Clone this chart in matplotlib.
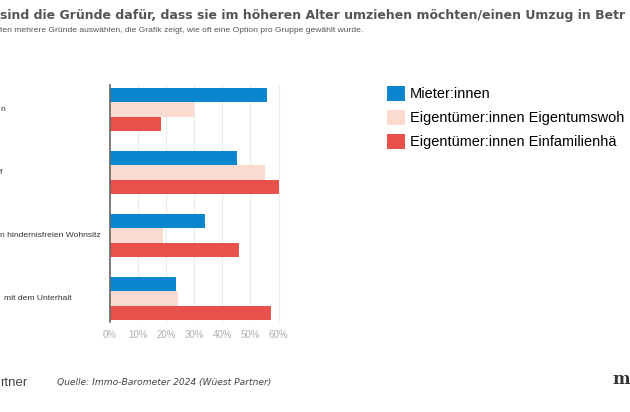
import matplotlib
matplotlib.use("Agg")
import matplotlib.pyplot as plt
import matplotlib.transforms as mtransforms
import numpy as np

# values in percent
categories = ["n", "f", "n hindernisfreien Wohnsitz", "mit dem Unterhalt"]
label_x_px = [0, 0, 0, 4]
mieter = [55.7, 45.2, 33.8, 23.5]
eigentumswohnung = [30.0, 55.0, 18.7, 24.2]
einfamilienhaus = [18.2, 60.1, 46.0, 57.4]
# legend labels as far as they show before the right edge
series_names = ["Mieter:innen",
                "Eigentümer:innen Eigentumswoh",
                "Eigentümer:innen Einfamilienhä"]
colors = ["#0a86cf", "#fbdbd0", "#e8504b"]
ticks = [0, 10, 20, 30, 40, 50, 60]

W, H = 630, 412
fig = plt.figure(figsize=(W / 100, H / 100), dpi=100)
fig.patch.set_facecolor("white")
SANS = ["Liberation Sans", "DejaVu Sans"]


def fx(px):
    return px / W


def fy(py):
    return 1 - py / H


def fit_width(txt, target_px):
    # shrink/grow a text so that it spans target_px
    for _ in range(3):
        r = fig.canvas.get_renderer()
        w = txt.get_window_extent(renderer=r).width
        txt.set_fontsize(txt.get_fontsize() * target_px / w)
    return txt.get_fontsize()


ax_l, ax_r, ax_t, ax_b = 110, 110 + 61 * 2.81, 85, 322
ax = fig.add_axes([fx(ax_l), fy(ax_b), fx(ax_r - ax_l), (ax_b - ax_t) / H])

pos = np.arange(len(categories))
bh = 0.227
for i, (vals, c, name) in enumerate(zip([mieter, eigentumswohnung, einfamilienhaus], colors, series_names)):
    ax.barh(pos + (i - 1) * bh, vals, height=bh, color=c, label=name, zorder=3)

ax.set_xlim(0, 61)
ax.set_ylim(3 + 0.373, -0.389)
ax.set_xticks(ticks)
ax.set_xticklabels([f"{t}%" for t in ticks], fontsize=7, color="#b0b0b0", family=SANS)
ax.set_yticks([])
ax.tick_params(axis="x", length=0, pad=6)
ax.grid(axis="x", color="#ececec", linewidth=0.8, zorder=0)
for s in ["top", "right", "bottom"]:
    ax.spines[s].set_visible(False)
ax.spines["left"].set_color("#666666")
ax.spines["left"].set_linewidth(1.2)
ax.spines["left"].set_zorder(4)

# category labels (cut off at the left edge in the original)
trans = mtransforms.blended_transform_factory(fig.transFigure, ax.transData)
cat_texts = [fig.text(fx(lx), p, lab, transform=trans, fontsize=7, color="#333333",
                      family=SANS, ha="left", va="center")
             for p, lab, lx in zip(pos, categories, label_x_px)]
cat_size = fit_width(cat_texts[2], 100)
for t in cat_texts:
    t.set_fontsize(cat_size)

# legend
probe = fig.text(0, 0, series_names[0], family=SANS, fontsize=10)
leg_size = fit_width(probe, 80)
probe.remove()
fig.legend(loc="upper left", bbox_to_anchor=(fx(381), fy(80)), frameon=False,
           prop={"family": SANS, "size": leg_size}, handlelength=1.25, handleheight=1.25,
           handletextpad=0.35, labelspacing=0.58, borderaxespad=0)

# title and subtitle
title = fig.text(fx(0), fy(16), "sind die Gründe dafür, dass sie im höheren Alter umziehen möchten/einen Umzug in Betr",
                 fontsize=10, fontweight="bold", color="#555555", ha="left", va="center")
fit_width(title, 628)
sub = fig.text(fx(0), fy(30), "ten mehrere Gründe auswählen, die Grafik zeigt, wie oft eine Option pro Gruppe gewählt wurde.",
               fontsize=7, color="#555555", family=SANS, ha="left", va="center")
fit_width(sub, 364)

# footer
fig.text(fx(0), fy(383), "rtner", fontsize=9.5, color="#444444", family=SANS, ha="left", va="center")
src = fig.text(fx(57), fy(383), "Quelle: Immo-Barometer 2024 (Wüest Partner)", fontsize=7,
               style="italic", color="#444444", ha="left", va="center")
fit_width(src, 214)
fig.text(fx(612), fy(379), "m", fontsize=12, family="DejaVu Serif", fontweight="bold",
         color="#333333", ha="left", va="center")

fig.savefig("out.png", dpi=100)
